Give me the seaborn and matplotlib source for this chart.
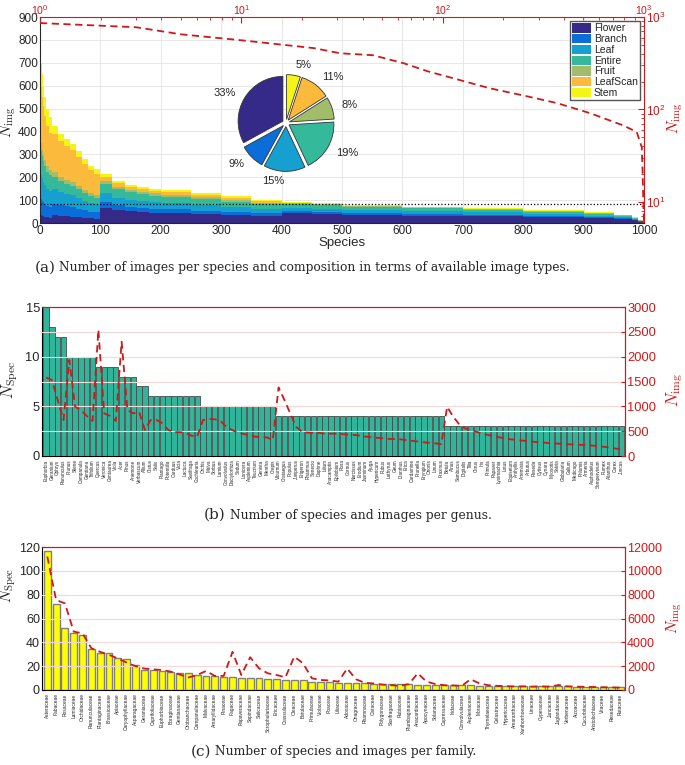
import numpy as np
import matplotlib
matplotlib.use("Agg")
import matplotlib.pyplot as plt
import seaborn as sns

sns.set_style("white")
plt.rcParams['font.family'] = ['Liberation Sans', 'DejaVu Sans']
plt.rcParams['mathtext.fontset'] = 'cm'

RED = '#cc1a1a'
W, H = 685, 765

# ---------------- (a) images per species ----------------
types = ['Flower', 'Branch', 'Leaf', 'Entire', 'Fruit', 'LeafScan', 'Stem']
type_colors = ['#352a87', '#0b6dd8', '#15a0cf', '#35b99b', '#a2bd6a', '#fcba3d', '#f4f416']
pie_share = [33, 9, 15, 19, 8, 11, 5]

# species sorted by number of images, grouped in rank bins
rank_edges = [0, 1, 2, 3, 5, 7, 10, 15, 20, 30, 40, 50, 60, 70, 80, 90, 100,
              120, 140, 160, 180, 200, 250, 300, 350, 400, 450, 500, 600, 700,
              800, 900, 950, 980, 990, 1000]
rank_totals = [870, 760, 700, 650, 600, 550, 500, 465, 425, 390, 365, 345, 315,
               280, 250, 235, 215, 185, 168, 157, 150, 143, 130, 116, 102, 93,
               89, 80, 72, 66, 56, 46, 36, 25, 12]
# rough composition (fractions per type) for a few rank ranges
comp_upto = [20, 100, 400, 1000]
comp_top20 = [0.05, 0.10, 0.15, 0.15, 0.05, 0.35, 0.15]
comp_top100 = [0.08, 0.12, 0.15, 0.12, 0.05, 0.40, 0.08]
comp_mid = [0.30, 0.12, 0.18, 0.20, 0.06, 0.08, 0.06]
comp_tail = [0.45, 0.10, 0.15, 0.18, 0.05, 0.02, 0.05]

# same counts on log-log axes
loglog_rank = [1, 3, 5, 10, 23, 31, 45, 64, 84, 133, 172, 250, 370, 540, 790,
               920, 975, 985, 992, 1000]
loglog_count = [860, 775, 650, 560, 460, 405, 386, 316, 259, 197, 169, 142, 117,
                91, 67, 57, 39, 20, 10, 6]
mean_images = 84

# ---------------- (b) per genus ----------------
genus_names = ['Euphorbia', 'Geranium', 'Ophrys', 'Ranunculus', 'Prunus', 'Silene',
               'Campanula', 'Gentiana', 'Trifolium', 'Quercus', 'Veronica', 'Centaurea',
               'Viola', 'Acer', 'Pinus', 'Anemone', 'Verbascum', 'Allium', 'Cistus',
               'Salix', 'Plantago', 'Potentilla', 'Carduus', 'Vicia', 'Lactuca',
               'Saxifraga', 'Cochlearia', 'Orchis', 'Malva', 'Sorbus', 'Lamium',
               'Convolvulus', 'Dactylorhiza', 'Sedum', 'Lonicera', 'Asplenium',
               'Teucrium', 'Genista', 'Mentha', 'Crepis', 'Viburnum', 'Crataegus',
               'Populus', 'Juniperus', 'Erigeron', 'Rhamnus', 'Senecio', 'Daphne',
               'Lilium', 'Anacamptis', 'Epilobium', 'Rosa', 'Cornus', 'Narcissus',
               'Erodium', 'Jasminum', 'Ajuga', 'Hypericum', 'Rubus', 'Lathyrus', 'Geum',
               'Dianthus', 'Erica', 'Cardamine', 'Prunella', 'Eryngium', 'Ononis',
               'Linum', 'Fraxinus', 'Betula', 'Alnus', 'Sambucus', 'Digitalis', 'Tilia',
               'Citrus', 'Iris', 'Primula', 'Papaver', 'Lysimachia', 'Lotus',
               'Equisetum', 'Anthyllis', 'Artemisia', 'Arbutus', 'Reseda', 'Cytisus',
               'Cynara', 'Myosotis', 'Salvia', 'Globularia', 'Galium', 'Medicago',
               'Phlomis', 'Armeria', 'Asphodelus', 'Sempervivum', 'Rumex', 'Ailanthus',
               'Carex', 'Juncus']
genus_species = [15, 13, 12, 12, 10, 10, 10, 10, 10, 9, 9, 9, 9, 8, 8, 8, 7, 7,
                 6, 6, 6, 6, 6, 6, 6, 6, 6,
                 5, 5, 5, 5, 5, 5, 5, 5, 5, 5, 5, 5, 5,
                 4, 4, 4, 4, 4, 4, 4, 4, 4, 4, 4, 4, 4, 4, 4, 4, 4, 4, 4, 4, 4, 4, 4,
                 4, 4, 4, 4, 4, 4,
                 3, 3, 3, 3, 3, 3, 3, 3, 3, 3, 3, 3, 3, 3, 3, 3, 3, 3, 3, 3, 3, 3, 3,
                 3, 3, 3, 3, 3, 3, 3, 3]
genus_images = [1580, 1530, 1130, 725, 1930, 990, 925, 805, 705, 2540, 860, 805, 705,
                2300, 925, 860, 890, 525, 725, 725, 660, 525, 480, 480, 465, 410, 390,
                725, 745, 740, 705, 590, 525, 465, 445, 410, 390, 380, 375, 320,
                1380, 1130, 860, 590, 490, 470, 465, 465, 450, 450, 450, 440, 430, 425,
                410, 390, 375, 365, 355, 345, 340, 335, 320, 305, 290, 275, 265, 255,
                240, 990, 800, 650, 560, 510, 490, 450, 425, 400, 375, 355, 335, 320,
                310, 295, 285, 275, 265, 255, 250, 245, 235, 230, 225, 220, 210, 195,
                185, 170, 150, 130]

# ---------------- (c) per family ----------------
family_names = ['Asteraceae', 'Fabaceae', 'Rosaceae', 'Lamiaceae', 'Orchidaceae',
                'Ranunculaceae', 'Plantaginaceae', 'Brassicaceae', 'Apiaceae',
                'Caryophyllaceae', 'Asparagaceae', 'Geraniaceae', 'Caprifoliaceae',
                'Euphorbiaceae', 'Boraginaceae', 'Gentianaceae', 'Orobanchaceae',
                'Campanulaceae', 'Malvaceae', 'Amaryllidaceae', 'Pinaceae', 'Fagaceae',
                'Papaveraceae', 'Sapindaceae', 'Salicaceae', 'Scrophulariaceae',
                'Ericaceae', 'Crassulaceae', 'Oleaceae', 'Betulaceae', 'Primulaceae',
                'Violaceae', 'Poaceae', 'Liliaceae', 'Adoxaceae', 'Onagraceae',
                'Rhamnaceae', 'Cistaceae', 'Polygonaceae', 'Saxifragaceae', 'Rubiaceae',
                'Plumbaginaceae', 'Anacardiaceae', 'Apocynaceae', 'Solanaceae',
                'Cupressaceae', 'Iridaceae', 'Convolvulaceae', 'Aspleniaceae',
                'Moraceae', 'Thymelaeaceae', 'Celastraceae', 'Hypericaceae',
                'Amaranthaceae', 'Xanthorrhoeaceae', 'Linaceae', 'Cyperaceae',
                'Juncaceae', 'Juglandaceae', 'Verbenaceae', 'Aizoaceae',
                'Cucurbitaceae', 'Aristolochiaceae', 'Vitaceae', 'Resedaceae', 'Rutaceae']
family_species = [117, 72, 52, 48, 46, 34, 31, 31, 27, 26, 21, 17, 17, 16, 15, 14.5,
                  14, 13, 12, 12, 11, 10.6, 10, 9.8, 9.8, 9, 9, 8, 8, 8, 7, 7, 7, 6,
                  6, 6, 6, 5, 5, 5, 5, 5, 4, 4, 4, 4, 4, 4, 4, 3, 3, 3, 3, 3, 3, 3, 3,
                  3, 3, 3, 2.5, 2.5, 2.5, 2.5, 2.5, 2.5]
family_images = [11200, 7550, 7270, 4900, 4750, 3500, 3200, 2950, 2650, 2300, 2000,
                 1800, 1730, 1680, 1540, 1300, 1050, 1260, 1600, 1180, 1180, 3200,
                 1260, 2750, 1820, 1400, 1260, 1060, 2800, 2240, 980, 840, 800, 700,
                 1800, 900, 600, 550, 450, 400, 350, 500, 1400, 700, 500, 400, 380,
                 350, 900, 550, 400, 350, 320, 300, 300, 280, 300, 280, 420, 300, 280,
                 260, 250, 230, 220, 200]


def rect(x0, y0, x1, y1):
    return [x0 / W, 1 - y1 / H, (x1 - x0) / W, (y1 - y0) / H]


def px_label(ax, xpx, ypx, x0, y0, x1, y1):
    # y label anchor in pixels: right edge for a left label, left edge for a right one
    ax.yaxis.set_label_coords((xpx - x0) / (x1 - x0), (y1 - ypx) / (y1 - y0))


def red_twin_style(ax, ax2):
    for s in ['top', 'right']:
        ax.spines[s].set_color(RED)
        ax2.spines[s].set_color(RED)
    for s in ['left', 'bottom']:
        ax.spines[s].set_color('black')
        ax2.spines[s].set_visible(False)
    for s in ax.spines.values():
        s.set_linewidth(0.8)
    ax2.tick_params(axis='y', colors=RED, labelcolor=RED, direction='in',
                    length=3, labelsize=9.3, pad=1.5)
    ax.tick_params(axis='y', direction='in', length=3, labelsize=9.3, pad=1.5)


fig = plt.figure(figsize=(W / 100, H / 100), dpi=100)

# ---- panel (a)
A = (40, 17, 644, 223)
axa = fig.add_axes(rect(*A))
comp_sets = [comp_top20, comp_top100, comp_mid, comp_tail]
bin_comp = []
for left in rank_edges[:-1]:
    idx = next(i for i, lim in enumerate(comp_upto) if left < lim)
    bin_comp.append(comp_sets[idx])
lefts = rank_edges[:-1]
widths = np.diff(rank_edges)
bottoms = np.zeros(len(rank_totals))
handles = []
for k, name in enumerate(types):
    layer = np.array([t * c[k] for t, c in zip(rank_totals, bin_comp)])
    h = axa.bar(lefts, layer, width=widths, bottom=bottoms, align='edge',
                color=type_colors[k], linewidth=0, label=name)
    handles.append(h)
    bottoms = bottoms + layer
axa.axhline(mean_images, color='black', ls=':', lw=0.9)
axa.set_xlim(0, 1000)
axa.set_ylim(0, 900)
axa.set_xticks(range(0, 1001, 100))
axa.set_yticks(range(0, 901, 100))
axa.grid(True, color='#e3e3e3', lw=0.6)
axa.set_axisbelow(True)
axa.tick_params(direction='in', length=3, labelsize=8.5, pad=1.5)
axa.set_xlabel('Species', fontsize=9.5, labelpad=0)
axa.set_ylabel(r'$N_{\mathrm{img}}$', fontsize=11)
px_label(axa, 18, 122, *A)
for s in ['top', 'right']:
    axa.spines[s].set_color(RED)
for s in axa.spines.values():
    s.set_linewidth(0.8)

axl = fig.add_axes(rect(*A))
axl.patch.set_alpha(0)
for s in axl.spines.values():
    s.set_visible(False)
sns.lineplot(x=loglog_rank, y=loglog_count, ax=axl, color=RED, lw=1.3)
for ln in axl.lines:
    ln.set_dashes([4, 2.5])
axl.set_xscale('log')
axl.set_yscale('log')
axl.set_xlim(1, 1000)
axl.set_ylim(5.9, 1000)
axl.xaxis.tick_top()
axl.yaxis.tick_right()
axl.yaxis.set_label_position('right')
axl.tick_params(which='both', colors=RED, labelcolor=RED, direction='in', labelsize=8.5, pad=1.5)
axl.tick_params(axis='x', pad=0.0, labelsize=7.6)
axl.tick_params(which='major', length=4)
axl.tick_params(which='minor', length=2)
axl.set_ylabel(r'$N_{\mathrm{img}}$', fontsize=11, color=RED)
px_label(axl, 666, 118, *A)
axl.set_xlabel('')
axl.legend(handles, types, loc='upper right', fontsize=7.5, frameon=True,
           fancybox=False, edgecolor='#555555', framealpha=1, borderpad=0.2,
           labelspacing=0.05, handlelength=1.8, handleheight=1.0,
           handletextpad=0.3, borderaxespad=0.4)

axp = fig.add_axes(rect(230, 67, 342, 179))
axp.pie(pie_share[::-1], colors=type_colors[::-1], explode=[0.08] * 7,
        startangle=90, counterclock=False,
        labels=[f'{v}%' for v in pie_share[::-1]], labeldistance=1.22,
        wedgeprops=dict(edgecolor='#333333', linewidth=0.6),
        textprops=dict(fontsize=8))

# ---- panel (b)
B = (42, 307, 625, 456)
axb = fig.add_axes(rect(*B))
sns.barplot(x=genus_names, y=genus_species, color='#30b59b', saturation=1,
            width=0.92, edgecolor='#4a4a4a', linewidth=0.6, ax=axb)
axb2 = axb.twinx()
sns.lineplot(x=np.arange(len(genus_names)), y=genus_images, ax=axb2, color=RED, lw=1.3)
for ln in axb2.lines:
    ln.set_dashes([4, 2.5])
axb.set_xlim(-0.7, len(genus_names) - 0.4)
axb.set_ylim(0, 15)
axb.set_yticks([0, 5, 10, 15])
axb2.set_ylim(0, 3000)
axb2.set_yticks(range(0, 3001, 500))
axb2.grid(axis='y', color='#f3d8d8', lw=0.8)
axb.set_xticks(range(len(genus_names)))
axb.set_xticklabels(genus_names, rotation=90, fontsize=3.3)
axb.tick_params(axis='x', length=1.5, pad=1)
red_twin_style(axb, axb2)
axb.set_ylabel(r'$N_{\mathrm{Spec}}$', fontsize=12)
px_label(axb, 20, 380, *B)
axb2.set_ylabel(r'$N_{\mathrm{img}}$', fontsize=12, color=RED)
px_label(axb2, 664, 390, *B)

# ---- panel (c)
C = (42, 547, 625, 690)
axc = fig.add_axes(rect(*C))
sns.barplot(x=family_names, y=family_species, color='#ffff00', saturation=1,
            width=0.78, edgecolor='#808080', linewidth=1.0, ax=axc)
axc2 = axc.twinx()
sns.lineplot(x=np.arange(len(family_names)), y=family_images, ax=axc2, color=RED, lw=1.3)
for ln in axc2.lines:
    ln.set_dashes([4, 2.5])
axc.set_xlim(-0.6, len(family_names) - 0.5)
axc.set_ylim(0, 120)
axc.set_yticks(range(0, 121, 20))
axc2.set_ylim(0, 12000)
axc2.set_yticks(range(0, 12001, 2000))
axc2.grid(axis='y', color='#f3d8d8', lw=0.8)
axc.set_xticks(range(len(family_names)))
axc.set_xticklabels(family_names, rotation=90, fontsize=3.5)
axc.tick_params(axis='x', length=1.5, pad=1)
red_twin_style(axc, axc2)
axc.tick_params(axis='y', labelsize=9)
axc2.tick_params(axis='y', labelsize=9)
axc.set_ylabel(r'$N_{\mathrm{Spec}}$', fontsize=11)
px_label(axc, 18, 585, *C)
axc2.set_ylabel(r'$N_{\mathrm{img}}$', fontsize=11, color=RED)
px_label(axc2, 665, 618, *C)

# ---- captions
cap = dict(family='DejaVu Serif', va='center')
fig.text(56 / W, 1 - 268 / H, '(a)', fontsize=11, ha='right', **cap)
fig.text(59 / W, 1 - 268 / H,
         'Number of images per species and composition in terms of available image types.',
         fontsize=8.8, ha='left', **cap)
fig.text(226 / W, 1 - 515 / H, '(b)', fontsize=11, ha='right', **cap)
fig.text(230 / W, 1 - 515 / H, 'Number of species and images per genus.',
         fontsize=8.8, ha='left', **cap)
fig.text(211 / W, 1 - 752 / H, '(c)', fontsize=11, ha='right', **cap)
fig.text(215 / W, 1 - 752 / H, 'Number of species and images per family.',
         fontsize=8.8, ha='left', **cap)

fig.savefig('out.png', dpi=100)
